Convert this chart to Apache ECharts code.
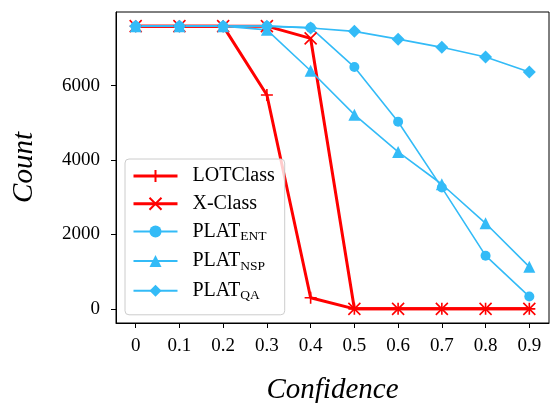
<!DOCTYPE html>
<html>
<head>
<meta charset="utf-8">
<script src="https://cdn.jsdelivr.net/npm/echarts@6/dist/echarts.min.js"></script>
<style>
  html, body { margin: 0; padding: 0; background: #fff; }
  #chart { width: 552px; height: 403px; }
</style>
</head>
<body>
<div id="chart"></div>
<script>
// confidence thresholds
const confidence = [0, 0.1, 0.2, 0.3, 0.4, 0.5, 0.6, 0.7, 0.8, 0.9];
// counts
const lotClass = [7600, 7600, 7600, 5750, 300, 0, 0, 0, 0, 0];
const xClass = [7600, 7600, 7600, 7600, 7270, 0, 0, 0, 0, 0];
const platEnt = [7600, 7600, 7600, 7600, 7560, 6500, 5030, 3260, 1430, 330];
const platNsp = [7600, 7600, 7600, 7500, 6400, 5220, 4220, 3350, 2300, 1130];
const platQa = [7600, 7600, 7600, 7600, 7550, 7460, 7250, 7030, 6770, 6370];
const yTicks = [0, 2000, 4000, 6000];

const RED = '#ff0000';
const BLUE = '#33bbf7';
const FONT = 'Liberation Serif';

const plusPath = 'path://M0,5L10,5M5,0L5,10';
const crossPath = 'path://M0,0L10,10M10,0L0,10';

function pairs(vals) {
  return confidence.map((x, i) => [x, vals[i]]);
}

function redSeries(name, vals, symbol) {
  return {
    name: name,
    type: 'line',
    data: pairs(vals),
    symbol: symbol,
    symbolSize: 12,
    lineStyle: { color: RED, width: 3 },
    itemStyle: { color: RED, borderColor: RED, borderWidth: 1.6 }
  };
}

function blueSeries(name, vals, symbol, size) {
  return {
    name: name,
    type: 'line',
    data: pairs(vals),
    symbol: symbol,
    symbolSize: size,
    lineStyle: { color: BLUE, width: 1.6 },
    itemStyle: { color: BLUE }
  };
}

const chart = echarts.init(document.getElementById('chart'));

chart.setOption({
  animation: false,
  grid: {
    left: 116, right: 3, top: 12, bottom: 80,
    show: true, borderColor: '#000', borderWidth: 1,
    outerBoundsMode: 'none'
  },
  legend: {
    left: 125, top: 159,
    orient: 'vertical',
    itemWidth: 44, itemHeight: 15, itemGap: 7.7,
    padding: [7, 10, 12, 7],
    backgroundColor: 'rgba(255,255,255,0.8)',
    borderColor: '#cccccc', borderWidth: 1, borderRadius: 4,
    data: [
      { name: 'LOTClass', lineStyle: { width: 3 } },
      { name: 'X-Class', lineStyle: { width: 3 } },
      { name: 'PLAT_ENT' },
      { name: 'PLAT_NSP' },
      { name: 'PLAT_QA' }
    ],
    formatter: function (name) {
      const parts = name.split('_');
      if (parts.length > 1) return '{m|' + parts[0] + '}{s|' + parts[1] + '}';
      return '{m|' + name + '}';
    },
    textStyle: {
      padding: [0, 0, 0, 10],
      rich: {
        m: { fontFamily: FONT, fontSize: 20, color: '#000', lineHeight: 24 },
        s: { fontFamily: FONT, fontSize: 13.5, color: '#000', lineHeight: 12, verticalAlign: 'bottom' }
      }
    }
  },
  xAxis: {
    type: 'value',
    min: -0.045, max: 0.945,
    name: 'Confidence',
    nameLocation: 'middle',
    nameGap: 53,
    nameTextStyle: { fontFamily: FONT, fontSize: 29, fontStyle: 'italic', color: '#000' },
    splitLine: { show: false },
    axisLine: { show: true, onZero: false, lineStyle: { color: '#000', width: 1 } },
    axisTick: { show: true, length: 5, lineStyle: { color: '#000' }, customValues: confidence },
    axisLabel: {
      customValues: confidence,
      margin: 14,
      fontFamily: FONT, fontSize: 19, color: '#000',
      formatter: function (v) { return String(v); }
    }
  },
  yAxis: {
    type: 'value',
    min: -380, max: 7980,
    name: 'Count',
    nameLocation: 'middle',
    nameGap: 77,
    nameTextStyle: { fontFamily: FONT, fontSize: 29, fontStyle: 'italic', color: '#000' },
    splitLine: { show: false },
    axisLine: { show: true, onZero: false, lineStyle: { color: '#000', width: 1 } },
    axisTick: { show: true, length: 5, lineStyle: { color: '#000' }, customValues: yTicks },
    axisLabel: {
      customValues: yTicks,
      margin: 16,
      fontFamily: FONT, fontSize: 19, color: '#000',
      formatter: function (v) { return String(v); }
    }
  },
  series: [
    redSeries('LOTClass', lotClass, plusPath),
    redSeries('X-Class', xClass, crossPath),
    blueSeries('PLAT_ENT', platEnt, 'circle', 10),
    blueSeries('PLAT_NSP', platNsp, 'triangle', 12),
    blueSeries('PLAT_QA', platQa, 'diamond', 13)
  ]
});
</script>
</body>
</html>
